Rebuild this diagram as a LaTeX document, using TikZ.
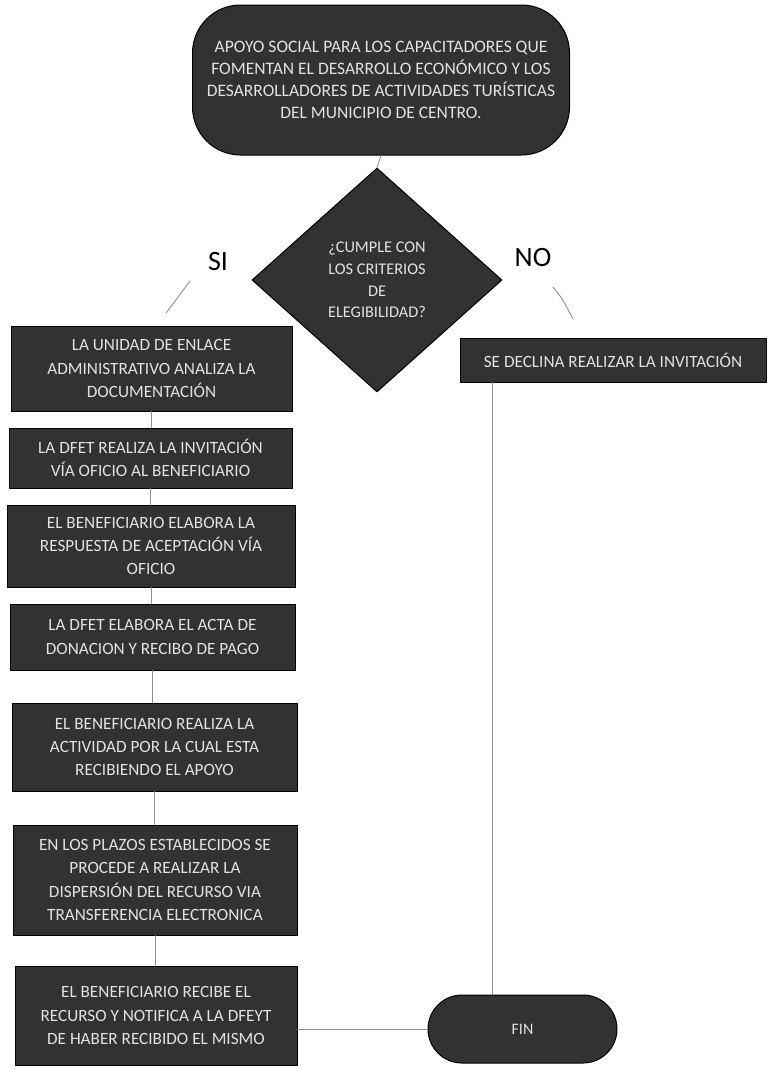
\documentclass[tikz,border=0pt]{standalone}
\usepackage{fontspec}
\setmainfont{Carlito}
\usetikzlibrary{shapes.geometric, shapes.misc, calc}
\definecolor{boxgray}{RGB}{50, 50, 50}
\definecolor{lightletter}{RGB}{226, 226, 226}
\definecolor{linegray}{RGB}{145, 145, 145}

\begin{document}
\begin{tikzpicture}[x=1pt, y=-1pt, line cap=round, line join=round,
    paso/.style={draw=black, line width=1pt, fill=boxgray, text=lightletter,
      align=center, inner sep=0pt, font=\fontsize{17.2}{23.2}\selectfont},
    linea/.style={linegray, line width=0.9pt}]
    \useasboundingbox (0,0) rectangle (768,1069);

    	\node[paso, rounded corners=48pt, minimum width=377pt, minimum height=150pt,
    	  font=\fontsize{17.5}{21.8}\selectfont] (inicio) at (381,80)
    	  {APOYO SOCIAL PARA LOS CAPACITADORES QUE\\FOMENTAN EL DESARROLLO ECONÓMICO Y LOS\\DESARROLLADORES DE ACTIVIDADES TURÍSTICAS\\DEL MUNICIPIO DE CENTRO.};
    	\node[paso, shape=diamond, minimum width=250pt, minimum height=224pt,
    	  font=\fontsize{16.3}{21.7}\selectfont] (criterios) at (377,280)
    	  {¿CUMPLE CON\\LOS CRITERIOS\\DE\\ELEGIBILIDAD?};

    	\node[paso, minimum width=281pt, minimum height=85pt] (analiza) at (151.5,368.5)
    	  {LA UNIDAD DE ENLACE\\ADMINISTRATIVO ANALIZA LA\\DOCUMENTACIÓN};
    	\node[paso, minimum width=283pt, minimum height=60pt] (invita) at (150.5,458)
    	  {LA DFET REALIZA LA INVITACIÓN\\VÍA OFICIO AL BENEFICIARIO};
    	\node[paso, minimum width=288pt, minimum height=82pt] (acepta) at (151,546)
    	  {EL BENEFICIARIO ELABORA LA\\RESPUESTA DE ACEPTACIÓN VÍA\\OFICIO};
    	\node[paso, minimum width=285pt, minimum height=66pt] (acta) at (152.5,637)
    	  {LA DFET ELABORA EL ACTA DE\\DONACION Y RECIBO DE PAGO};
    	\node[paso, minimum width=285pt, minimum height=88pt] (actividad) at (154.5,747)
    	  {EL BENEFICIARIO REALIZA LA\\ACTIVIDAD POR LA CUAL ESTA\\RECIBIENDO EL APOYO};
    	\node[paso, minimum width=284pt, minimum height=110pt] (dispersion) at (155,880)
    	  {EN LOS PLAZOS ESTABLECIDOS SE\\PROCEDE A REALIZAR LA\\DISPERSIÓN DEL RECURSO VIA\\TRANSFERENCIA ELECTRONICA};
    	\node[paso, minimum width=282pt, minimum height=99pt] (recibe) at (156,1015.5)
    	  {EL BENEFICIARIO RECIBE EL\\RECURSO Y NOTIFICA A LA DFEYT\\DE HABER RECIBIDO EL MISMO};

    	\node[paso, minimum width=306pt, minimum height=44pt] (declina) at (613,360)
    	  {SE DECLINA REALIZAR LA INVITACIÓN};
    	\node[paso, shape=rounded rectangle, minimum width=189pt, minimum height=68pt,
    	  font=\fontsize{16}{20}\selectfont] (fin) at (522.5,1029) {FIN};

    	\node[font=\fontsize{28}{30}\selectfont] (si) at (218,262) {SI};
    	\node[font=\fontsize{28}{30}\selectfont] (no) at (533,258) {NO};

    	\coordinate (si1) at (190,281);
    	\coordinate (si2) at (166,313);
    	\coordinate (no1) at (553,287);
    	\coordinate (no2) at (573,319);

		\draw [linea] (inicio.south) -- (criterios.north);
		\draw [linea] (si1) -- (si2);
		\draw [linea] (no1) .. controls (562,298) .. (no2);
		\draw [linea] (analiza.south) -- (analiza.south |- invita.north);
		\draw [linea] (invita.south) -- (invita.south |- acepta.north);
		\draw [linea] (acepta.south) -- (acepta.south |- acta.north);
		\draw [linea] (acta.south) -- (acta.south |- actividad.north);
		\draw [linea] (actividad.south) -- (actividad.south |- dispersion.north);
		\draw [linea] (dispersion.south) -- (dispersion.south |- recibe.north);
		\draw [linea] ([xshift=-30pt]fin.north |- declina.south) -- ([xshift=-30pt]fin.north);
		\draw [linea] (recibe.east |- fin.west) -- (fin.west);
    \end{tikzpicture}
\end{document}
